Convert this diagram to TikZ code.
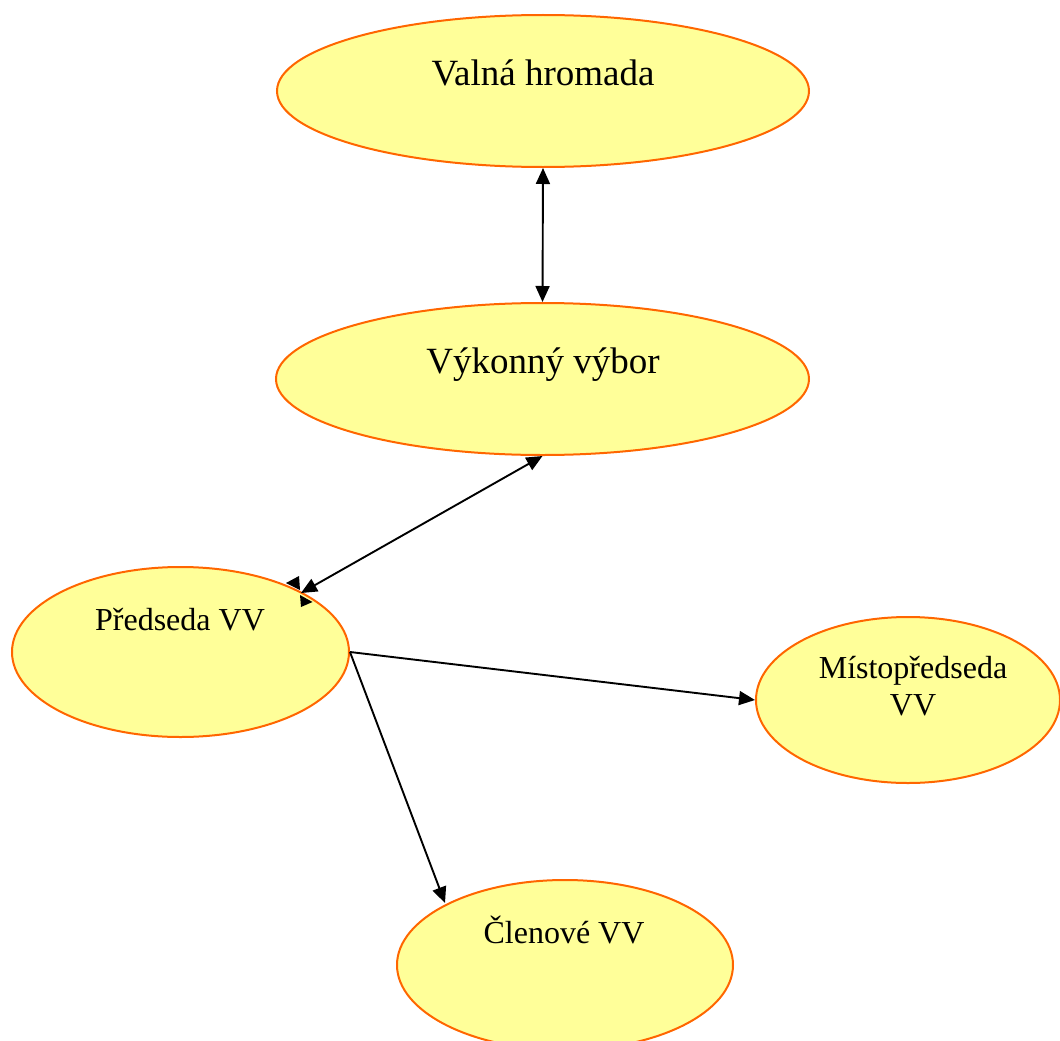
\documentclass[tikz,border=0pt]{standalone}
\usepackage{fontspec}
\setmainfont{Liberation Serif}
\usetikzlibrary{shapes.geometric,arrows.meta}
\definecolor{fillyel}{HTML}{FFFF99}
\definecolor{edgeor}{HTML}{FF6600}
\tikzset{
  oval/.style={ellipse, draw=edgeor, fill=fillyel, line width=2pt, inner sep=0pt},
  bigtxt/.style={font=\fontsize{37}{40}\selectfont, anchor=base, inner sep=0pt},
  smalltxt/.style={font=\fontsize{32}{37}\selectfont, anchor=base, inner sep=0pt},
  conn/.style={line width=1.9pt, black},
  tip/.style={-{Triangle[length=16pt,width=14pt]}},
  tips/.style={{Triangle[length=16pt,width=14pt]}-{Triangle[length=16pt,width=14pt]}}
}
\begin{document}
\begin{tikzpicture}[x=1pt,y=-1pt]
\useasboundingbox (0,0) rectangle (1060,1041);
\begin{scope}
\clip (0,0) rectangle (1060,1041);
\node[oval, minimum width=532, minimum height=152] (vh) at (543,91) {};
\node[oval, minimum width=533, minimum height=152] (vv) at (542.5,379) {};
\node[oval, minimum width=337, minimum height=170] (ps) at (180.5,652) {};
\node[oval, minimum width=304, minimum height=166] (mp) at (908,700) {};
\node[oval, minimum width=336, minimum height=170] (cl) at (565,965) {};
\end{scope}

\node[bigtxt] (tvh) at (543,85) {Valná hromada};
\node[bigtxt] (tvv) at (543,373) {Výkonný výbor};
\node[smalltxt] (tps) at (180,630) {Předseda VV};
\node[smalltxt] (tmp1) at (913,678) {Místopředseda};
\node[smalltxt] (tmp2) at (913,715) {VV};
\node[smalltxt] (tcl) at (564,943) {Členové VV};

\draw[conn, tips] (vh.south) -- (vv.north);
\coordinate (pstop) at (301,593);
\draw[conn, tips] (vv.south) -- (pstop);
\draw[conn, tip] (ps.east) -- (mp.west);
\coordinate (cltop) at (445,903);
\draw[conn, tip] (ps.east) -- (cltop);

\fill[black] (286,583) -- (299,576) -- (300,590) -- cycle;
\fill[black] (300,595) -- (312.5,602) -- (301,607) -- cycle;
\end{tikzpicture}
\end{document}
